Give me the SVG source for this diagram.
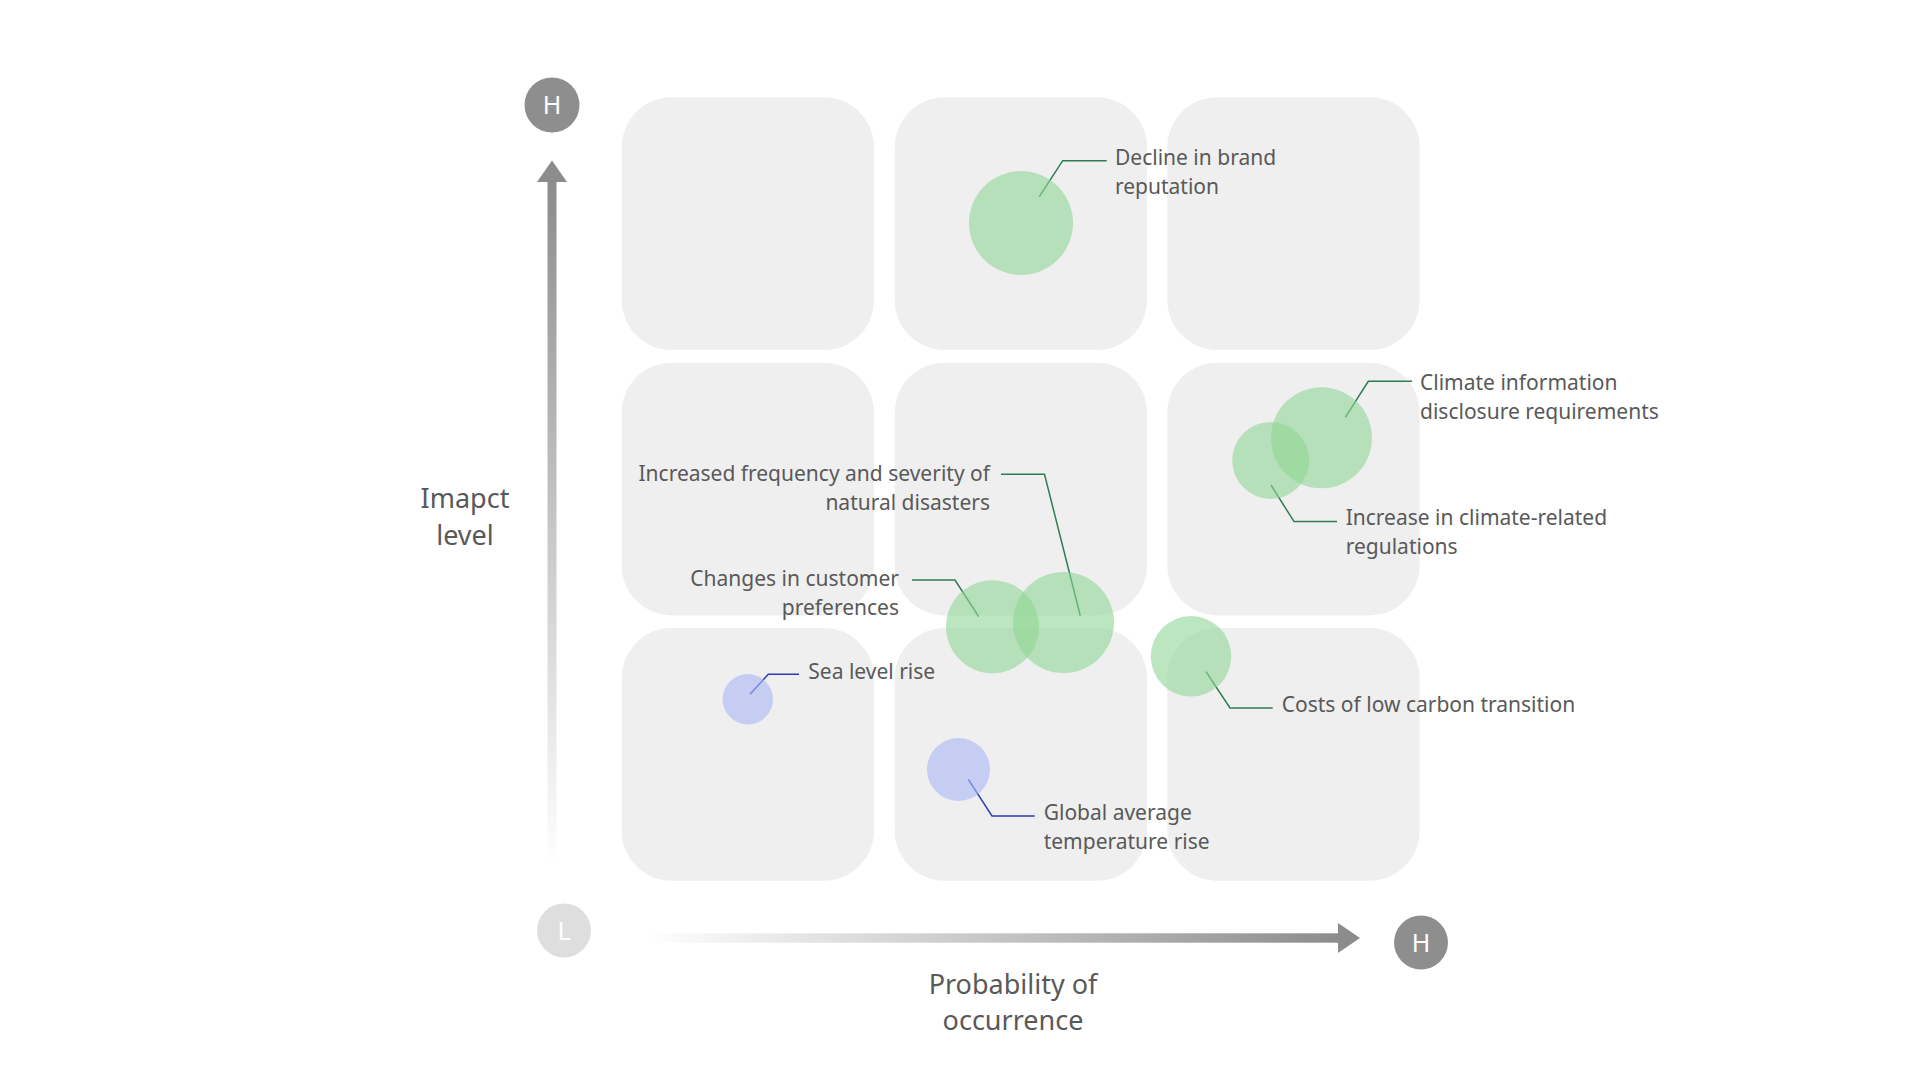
<svg xmlns="http://www.w3.org/2000/svg" width="1920" height="1080" viewBox="0 0 1920 1080">
<defs>
<linearGradient id="gv" x1="0" y1="0" x2="0" y2="1">
<stop offset="0" stop-color="#8c8c8c"/>
<stop offset="1" stop-color="#ffffff"/>
</linearGradient>
<linearGradient id="gh" x1="0" y1="0" x2="1" y2="0">
<stop offset="0" stop-color="#ffffff"/>
<stop offset="1" stop-color="#8c8c8c"/>
</linearGradient>
</defs>
<style>
.cell{fill:#efefef}
.g{fill:#8fd694;fill-opacity:0.6}
.b{fill:#a9b6f5;fill-opacity:0.6}
.lg{fill:none;stroke:#2e7d52;stroke-width:1.5}
.lb{fill:none;stroke:#2b3fb5;stroke-width:1.5}
.t{font-family:"Noto Sans","Liberation Sans",sans-serif;font-size:21px;fill:#595959}
.ax{font-family:"Noto Sans","Liberation Sans",sans-serif;font-size:27px;fill:#595959;text-anchor:middle}
.hl{font-family:"Noto Sans","Liberation Sans",sans-serif;font-size:25px;fill:#ffffff;text-anchor:middle}
.r{text-anchor:end}
</style>
<rect width="1920" height="1080" fill="#ffffff"/>
<g id="grid">
<rect class="cell" x="621.7" y="97.3" width="252.3" height="252.7" rx="50"/>
<rect class="cell" x="894.7" y="97.3" width="252.3" height="252.7" rx="50"/>
<rect class="cell" x="1167.3" y="97.3" width="252.3" height="252.7" rx="50"/>
<rect class="cell" x="621.7" y="362.7" width="252.3" height="252.7" rx="50"/>
<rect class="cell" x="894.7" y="362.7" width="252.3" height="252.7" rx="50"/>
<rect class="cell" x="1167.3" y="362.7" width="252.3" height="252.7" rx="50"/>
<rect class="cell" x="621.7" y="628" width="252.3" height="252.7" rx="50"/>
<rect class="cell" x="894.7" y="628" width="252.3" height="252.7" rx="50"/>
<rect class="cell" x="1167.3" y="628" width="252.3" height="252.7" rx="50"/>
</g>
<g id="axes">
<rect x="547.5" y="180" width="9" height="685" fill="url(#gv)"/>
<polygon points="552,160.5 537,182 567,182" fill="#8c8c8c"/>
<rect x="646" y="933.3" width="694" height="9.4" fill="url(#gh)"/>
<polygon points="1360,938 1338,923 1338,953" fill="#8c8c8c"/>
<text class="ax" x="465" y="508">Imapct</text>
<text class="ax" x="465" y="545">level</text>
<text class="ax" x="1013" y="993.5">Probability of</text>
<text class="ax" x="1013" y="1030">occurrence</text>
</g>
<g id="axis-h-top">
<circle cx="552" cy="105" r="27.5" fill="#8e8e8e"/>
<text class="hl" x="552" y="114">H</text>
</g>
<g id="axis-l">
<circle cx="564" cy="930.5" r="27" fill="#dedede"/>
<text class="hl" x="564" y="939.5">L</text>
</g>
<g id="axis-h-right">
<circle cx="1421" cy="942.5" r="27" fill="#8e8e8e"/>
<text class="hl" x="1421" y="951.5">H</text>
</g>
<g id="connectors">
<path class="lg" d="M1039.3,196.7 L1062.7,160.7 H1106.7"/>
<path class="lg" d="M1345.3,417.3 L1368.3,381.3 H1412"/>
<path class="lg" d="M1271,485 L1294,521.6 H1337"/>
<path class="lg" d="M1080.3,615.7 L1044.5,474.3 H1001"/>
<path class="lg" d="M978.7,616.7 L955,580 H912"/>
<path class="lg" d="M1206,671.7 L1230,708 H1272.7"/>
<path class="lb" d="M750,694.3 L768.3,674.3 H799"/>
<path class="lb" d="M968.3,779.3 L992,816 H1034.7"/>
</g>
<g id="brand-reputation">
<circle class="g" cx="1021" cy="223" r="52"/>
<text class="t" x="1115" y="164.5">Decline in brand</text>
<text class="t" x="1115" y="193.5">reputation</text>
</g>
<g id="disclosure-requirements">
<circle class="g" cx="1321.5" cy="437.8" r="50.5"/>
<text class="t" x="1420" y="389.5">Climate information</text>
<text class="t" x="1420" y="418.5">disclosure requirements</text>
</g>
<g id="climate-regulations">
<circle class="g" cx="1270.7" cy="460.4" r="38.5"/>
<text class="t" x="1345.7" y="524.5">Increase in climate-related</text>
<text class="t" x="1345.7" y="553.5">regulations</text>
</g>
<g id="natural-disasters">
<circle class="g" cx="1063.5" cy="622.5" r="50.5"/>
<text class="t r" x="990" y="480.5">Increased frequency and severity of</text>
<text class="t r" x="990" y="509.5">natural disasters</text>
</g>
<g id="customer-preferences">
<circle class="g" cx="992.5" cy="626.7" r="46.5"/>
<text class="t r" x="899" y="586">Changes in customer</text>
<text class="t r" x="899" y="615">preferences</text>
</g>
<g id="low-carbon-costs">
<circle class="g" cx="1191" cy="656.3" r="40.2"/>
<text class="t" x="1281.7" y="711.5">Costs of low carbon transition</text>
</g>
<g id="sea-level-rise">
<circle class="b" cx="747.8" cy="699.2" r="25.2"/>
<text class="t" x="808.3" y="678.8">Sea level rise</text>
</g>
<g id="temperature-rise">
<circle class="b" cx="958.5" cy="769.5" r="31.5"/>
<text class="t" x="1043.7" y="819.5">Global average</text>
<text class="t" x="1043.7" y="848.5">temperature rise</text>
</g>
</svg>
